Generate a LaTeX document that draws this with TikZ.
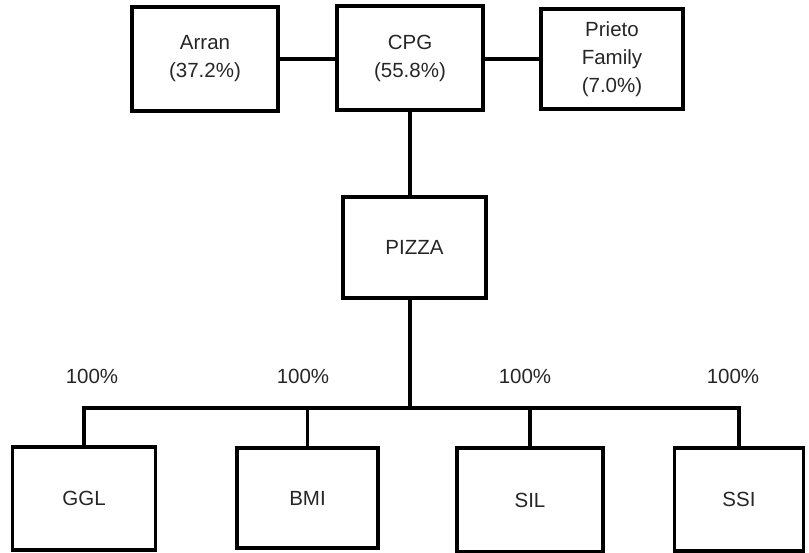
\documentclass[tikz,border=0pt]{standalone}
\usepackage{fontspec}
\setmainfont{Liberation Sans}
\begin{document}
\begin{tikzpicture}[x=1pt,y=-1pt,
  box/.style={draw=black,line width=3.2pt,rectangle,inner sep=0pt,align=center,
    font=\fontsize{20.5}{28}\selectfont,text=black!85},
  lbl/.style={inner sep=0pt,font=\fontsize{20.5}{28}\selectfont,text=black!85},
  conn/.style={draw=black,line width=3.2pt,line join=miter}]
\useasboundingbox (0,0) rectangle (809,553);
\node[box,minimum width=146pt,minimum height=104pt] (arran) at (205,59) {Arran\\(37.2\%)};
\node[box,minimum width=146pt,minimum height=104pt] (cpg) at (410,58) {CPG\\(55.8\%)};
\node[box,minimum width=142pt,minimum height=100pt] (prieto) at (612,59) {Prieto\\Family\\(7.0\%)};
\node[box,minimum width=143pt,minimum height=101pt] (pizza) at (414.5,247.5) {PIZZA};
\node[box,minimum width=143pt,minimum height=103pt] (ggl) at (84,498.5) {GGL};
\node[box,minimum width=141pt,minimum height=100pt] (bmi) at (307.5,498) {BMI};
\node[box,minimum width=146pt,minimum height=104pt] (sil) at (530,500) {SIL};
\node[box,minimum width=129pt,minimum height=103pt] (ssi) at (739,499.5) {SSI};
\coordinate (bus) at (410,408);
\node[lbl] (l1) at (92,376) {100\%};
\node[lbl] (l2) at (303,376) {100\%};
\node[lbl] (l3) at (525,376) {100\%};
\node[lbl] (l4) at (733,376) {100\%};
\draw[conn] (arran.east) -- (cpg.west |- arran.east);
\draw[conn] (cpg.east |- prieto.west) -- (prieto.west);
\draw[conn] (cpg.south) -- (cpg.south |- pizza.north);
\draw[conn] (pizza.south -| bus) -- (bus);
\draw[conn] (ggl.north) |- (bus);
\draw[conn] (bmi.north) |- (bus);
\draw[conn] (sil.north) |- (bus);
\draw[conn] (ssi.north) |- (bus);
\end{tikzpicture}
\end{document}
